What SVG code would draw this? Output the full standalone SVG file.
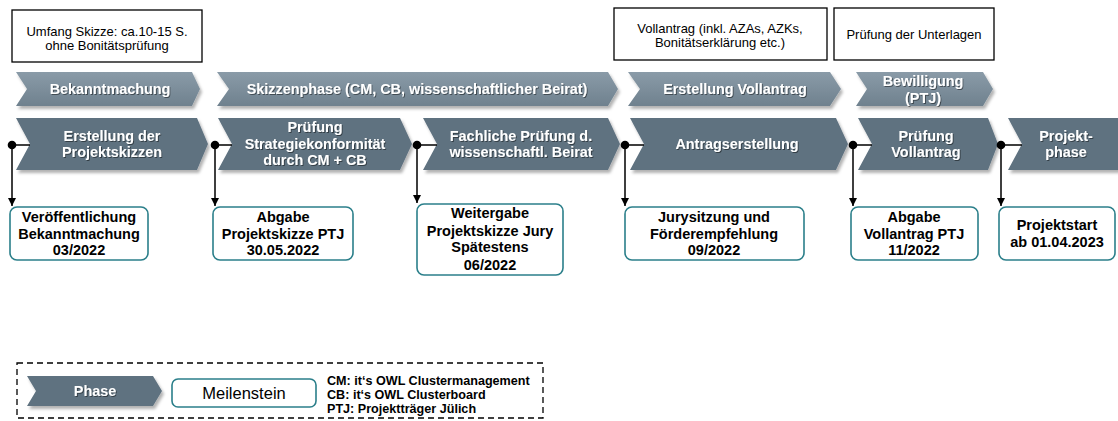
<svg xmlns="http://www.w3.org/2000/svg" width="1118" height="421" viewBox="0 0 1118 421">
<style>
text{font-family:"Liberation Sans",Arial,sans-serif}
.note{fill:#fff;stroke:#000;stroke-width:1.3}
.nt{font-size:13px;fill:#000;text-anchor:middle}
.ph1{fill:url(#g1);filter:url(#sh)}
.ph2{fill:#5f7280;filter:url(#sh)}
.pt{font-size:14.4px;font-weight:bold;fill:#fff;text-anchor:middle;filter:url(#tsh)}
.ms{fill:#fff;stroke:#2b7f8a;stroke-width:1.6}
.mt{font-size:14.5px;font-weight:bold;fill:#000;text-anchor:middle}
.ln{stroke:#000;stroke-width:1.5;fill:none}
.lt{font-size:12.6px;font-weight:bold;fill:#000}
</style>
<defs>
<linearGradient id="g1" x1="0" y1="0" x2="0" y2="1">
<stop offset="0" stop-color="#8a9ba8"/>
<stop offset="1" stop-color="#6f818e"/>
</linearGradient>
<filter id="sh" x="-5%" y="-20%" width="115%" height="150%">
<feDropShadow dx="2" dy="3" stdDeviation="1.5" flood-color="#000" flood-opacity="0.3"/>
</filter>
<filter id="tsh" x="-10%" y="-30%" width="120%" height="160%">
<feDropShadow dx="1" dy="1" stdDeviation="0.6" flood-color="#000" flood-opacity="0.45"/>
</filter>
<marker id="ar" viewBox="0 0 10 10" refX="10" refY="5" markerWidth="8" markerHeight="8" markerUnits="userSpaceOnUse" orient="auto">
<path d="M0,0 L10,5 L0,10 z" fill="#000"/>
</marker>
</defs>

<g id="note-umfang">
<rect class="note" x="12" y="10" width="190" height="52"/>
<text class="nt" x="107" y="36">Umfang Skizze: ca.10-15 S.</text>
<text class="nt" x="107" y="50">ohne Bonitätsprüfung</text>
</g>
<g id="note-vollantrag">
<rect class="note" x="614" y="8" width="213" height="52"/>
<text class="nt" x="720" y="33">Vollantrag (inkl. AZAs, AZKs,</text>
<text class="nt" x="720" y="47">Bonitätserklärung etc.)</text>
</g>
<g id="note-pruefung">
<rect class="note" x="834" y="8" width="160" height="52"/>
<text class="nt" x="914" y="39">Prüfung der Unterlagen</text>
</g>

<g id="phase-bekanntmachung">
<path class="ph1" d="M16,72 L192,72 L200,89 L192,106 L16,106 L27,89 z"/>
<text class="pt" x="110" y="94">Bekanntmachung</text>
</g>
<g id="phase-skizzenphase">
<path class="ph1" d="M217,72 L608,72 L618,89 L608,106 L217,106 L229,89 z"/>
<text class="pt" x="417" y="94">Skizzenphase (CM, CB, wissenschaftlicher Beirat)</text>
</g>
<g id="phase-erstellung-vollantrag">
<path class="ph1" d="M628,72 L830,72 L841,89 L830,106 L628,106 L640,89 z"/>
<text class="pt" x="735" y="94">Erstellung Vollantrag</text>
</g>
<g id="phase-bewilligung">
<path class="ph1" d="M856,72 L983,72 L993,89 L983,106 L856,106 L867,89 z"/>
<text class="pt" x="923" y="86">Bewilligung</text>
<text class="pt" x="923" y="103">(PTJ)</text>
</g>

<g id="step-erstellung">
<path class="ph2" d="M16,118 L197,118 L208,144 L197,170 L16,170 L30,144 z"/>
<text class="pt" x="112" y="141">Erstellung der</text>
<text class="pt" x="112" y="157">Projektskizzen</text>
</g>
<g id="step-strategie">
<path class="ph2" d="M218,118 L400,118 L412,144 L400,170 L218,170 L232,144 z"/>
<text class="pt" x="315" y="132">Prüfung</text>
<text class="pt" x="315" y="149">Strategiekonformität</text>
<text class="pt" x="315" y="165">durch CM + CB</text>
</g>
<g id="step-fachlich">
<path class="ph2" d="M423,118 L608,118 L620,144 L608,170 L423,170 L437,144 z"/>
<text class="pt" x="521" y="141">Fachliche Prüfung d.</text>
<text class="pt" x="521" y="157">wissenschaftl. Beirat</text>
</g>
<g id="step-antrag">
<path class="ph2" d="M630,118 L836,118 L848,144 L836,170 L630,170 L644,144 z"/>
<text class="pt" x="737" y="149">Antragserstellung</text>
</g>
<g id="step-pruefung-vollantrag">
<path class="ph2" d="M858,118 L988,118 L998,144 L988,170 L858,170 L872,144 z"/>
<text class="pt" x="926" y="141">Prüfung</text>
<text class="pt" x="926" y="157">Vollantrag</text>
</g>
<g id="step-projektphase">
<path class="ph2" d="M1008,118 L1120,118 L1130,144 L1120,170 L1008,170 L1022,144 z"/>
<text class="pt" x="1066" y="141">Projekt-</text>
<text class="pt" x="1066" y="157">phase</text>
</g>

<g id="connectors">
<path class="ln" d="M12,145 H30 M12,145 V206" marker-end="url(#ar)"/>
<path class="ln" d="M215,145 H232 M215,145 V206" marker-end="url(#ar)"/>
<path class="ln" d="M417,145 H437 M417,145 V203" marker-end="url(#ar)"/>
<path class="ln" d="M625,145 H644 M625,145 V206" marker-end="url(#ar)"/>
<path class="ln" d="M853,145 H872 M853,145 V206" marker-end="url(#ar)"/>
<path class="ln" d="M1001,145 H1022 M1001,145 V206" marker-end="url(#ar)"/>
<circle cx="12" cy="145" r="4.3"/>
<circle cx="215" cy="145" r="4.3"/>
<circle cx="417" cy="145" r="4.3"/>
<circle cx="625" cy="145" r="4.3"/>
<circle cx="853" cy="145" r="4.3"/>
<circle cx="1001" cy="145" r="4.3"/>
</g>

<g id="ms-veroeffentlichung">
<rect class="ms" x="10" y="207" width="138" height="53" rx="7"/>
<text class="mt" x="79" y="222">Veröffentlichung</text>
<text class="mt" x="79" y="239">Bekanntmachung</text>
<text class="mt" x="79" y="255">03/2022</text>
</g>
<g id="ms-abgabe-skizze">
<rect class="ms" x="213" y="207" width="140" height="53" rx="7"/>
<text class="mt" x="283" y="222">Abgabe</text>
<text class="mt" x="283" y="239">Projektskizze PTJ</text>
<text class="mt" x="283" y="255">30.05.2022</text>
</g>
<g id="ms-weitergabe">
<rect class="ms" x="417" y="204" width="146" height="71" rx="7"/>
<text class="mt" x="490" y="218">Weitergabe</text>
<text class="mt" x="490" y="236">Projektskizze Jury</text>
<text class="mt" x="490" y="252">Spätestens</text>
<text class="mt" x="490" y="270">06/2022</text>
</g>
<g id="ms-jury">
<rect class="ms" x="625" y="207" width="179" height="53" rx="7"/>
<text class="mt" x="714" y="222">Jurysitzung und</text>
<text class="mt" x="714" y="239">Förderempfehlung</text>
<text class="mt" x="714" y="255">09/2022</text>
</g>
<g id="ms-abgabe-vollantrag">
<rect class="ms" x="851" y="207" width="127" height="53" rx="7"/>
<text class="mt" x="914" y="222">Abgabe</text>
<text class="mt" x="914" y="239">Vollantrag PTJ</text>
<text class="mt" x="914" y="255">11/2022</text>
</g>
<g id="ms-projektstart">
<rect class="ms" x="999" y="207" width="116" height="53" rx="7"/>
<text class="mt" x="1057" y="230">Projektstart</text>
<text class="mt" x="1057" y="247">ab 01.04.2023</text>
</g>

<g id="legend">
<rect x="17" y="363" width="526" height="55" fill="none" stroke="#000" stroke-width="1.3" stroke-dasharray="6,4"/>
<path class="ph2" d="M27,376 L153,376 L162,391 L153,406 L27,406 L36,391 z"/>
<text class="pt" x="95" y="396">Phase</text>
<rect class="ms" x="172" y="379" width="144" height="28" rx="6"/>
<text x="244" y="399" font-size="16.5px" text-anchor="middle" fill="#000">Meilenstein</text>
<text class="lt" x="327" y="385">CM: it‘s OWL Clustermanagement</text>
<text class="lt" x="327" y="399">CB: it‘s OWL Clusterboard</text>
<text class="lt" x="327" y="413">PTJ: Projektträger Jülich</text>
</g>
</svg>
